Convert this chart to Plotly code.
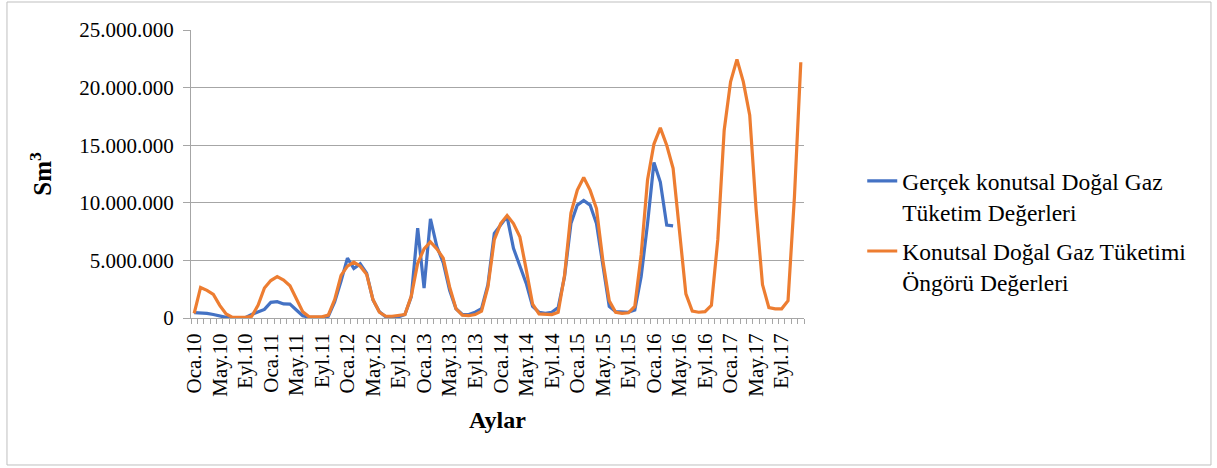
import plotly.graph_objects as go

# Month abbreviations (Turkish) and years
month_abbr = ["Oca", "Şub", "Mar", "Nis", "May", "Haz", "Tem", "Ağu", "Eyl", "Eki", "Kas", "Ara"]
years = ["10", "11", "12", "13", "14", "15", "16", "17"]
months = [f"{m}.{y}" for y in years for m in month_abbr]

# Actual residential natural gas consumption (million Sm3), Oca.10 - Nis.16
actual_mln = [
    0.46, 0.45, 0.40, 0.30, 0.17, 0.05, 0.02, 0.02, 0.02, 0.30, 0.50, 0.75,
    1.36, 1.42, 1.22, 1.20, 0.70, 0.20, 0.05, 0.05, 0.05, 0.15, 1.40, 3.20,
    5.20, 4.30, 4.70, 3.90, 1.56, 0.55, 0.10, 0.10, 0.10, 0.30, 1.85, 7.80,
    2.60, 8.60, 6.20, 4.80, 2.40, 0.80, 0.30, 0.30, 0.50, 0.80, 2.90, 7.35,
    8.10, 8.80, 6.05, 4.45, 3.00, 1.00, 0.50, 0.40, 0.50, 0.90, 3.60, 8.20,
    9.80, 10.20, 9.80, 8.20, 4.75, 1.00, 0.55, 0.50, 0.50, 0.70, 3.60, 8.20,
    13.50, 11.80, 8.07, 8.00,
]

# Forecast residential natural gas consumption (million Sm3), Oca.10 - Ara.17
forecast_mln = [
    0.40, 2.65, 2.40, 2.05, 1.10, 0.35, 0.05, 0.05, 0.05, 0.15, 1.10, 2.60,
    3.25, 3.60, 3.30, 2.80, 1.60, 0.55, 0.10, 0.10, 0.10, 0.25, 1.60, 3.70,
    4.50, 4.85, 4.50, 3.80, 1.60, 0.50, 0.15, 0.15, 0.20, 0.30, 1.90, 4.75,
    6.00, 6.60, 6.00, 5.20, 2.70, 0.80, 0.25, 0.20, 0.30, 0.60, 2.70, 6.80,
    8.20, 8.90, 8.20, 7.05, 4.20, 1.20, 0.35, 0.30, 0.30, 0.50, 3.70, 9.10,
    11.10, 12.20, 11.10, 9.50, 5.00, 1.50, 0.50, 0.40, 0.45, 1.00, 5.50, 12.00,
    15.10, 16.50, 15.00, 13.00, 7.30, 2.10, 0.60, 0.50, 0.55, 1.10, 6.80, 16.30,
    20.50, 22.45, 20.50, 17.60, 9.40, 2.90, 0.90, 0.80, 0.80, 1.50, 10.50, 22.20,
]

series_names = [
    "Gerçek konutsal Doğal Gaz<br>Tüketim Değerleri",
    "Konutsal Doğal Gaz Tüketimi<br>Öngörü Değerleri",
]
series_colors = ["#4472C4", "#ED7D31"]

y_ticks = [0, 5_000_000, 10_000_000, 15_000_000, 20_000_000, 25_000_000]
label_step = 4

FONT = "Liberation Serif"
GRID = "#a6a6a6"

fig = go.Figure()
for k, (name, color, vals) in enumerate(zip(series_names, series_colors, [actual_mln, forecast_mln])):
    fig.add_trace(go.Scatter(
        x=list(range(len(vals))),
        y=[v * 1_000_000 for v in vals],
        mode="lines",
        name=name,
        legendgroup=f"g{k}",
        line=dict(color=color, width=3.2),
    ))

fig.update_layout(
    width=1217, height=468,
    margin=dict(l=191, r=413, t=30, b=150, autoexpand=False),
    paper_bgcolor="white", plot_bgcolor="white",
    separators=",.",
    font=dict(family=FONT, size=21, color="black"),
    showlegend=True,
    legend=dict(
        x=1.095, y=0.30, xanchor="left", yanchor="middle",
        font=dict(family=FONT, size=23.5, color="black"),
        valign="top", tracegroupgap=6,
        bgcolor="rgba(0,0,0,0)",
    ),
    shapes=[dict(
        type="rect", xref="paper", yref="paper",
        x0=-0.3002, x1=1.6639, y0=-0.5104, y1=1.0972,
        line=dict(color="#bfbfbf", width=1), layer="below",
    )],
)

fig.update_xaxes(
    range=[-0.5, len(months) - 0.5],
    tickmode="array",
    tickvals=list(range(0, len(months), label_step)),
    ticktext=months[::label_step],
    tickangle=-90,
    ticks="outside", ticklen=6, tickcolor="rgba(0,0,0,0)",
    tickfont=dict(family=FONT, size=21, color="black"),
    minor=dict(tickmode="linear", tick0=-0.5, dtick=1, ticks="outside",
               ticklen=5, tickcolor=GRID, showgrid=False),
    showline=True, linecolor=GRID, linewidth=1,
    showgrid=False, zeroline=False,
    title=dict(text="<b>Aylar</b>", font=dict(family=FONT, size=24, color="black"), standoff=15),
    automargin=False,
)

fig.update_yaxes(
    range=[0, 25_000_000],
    tickmode="array", tickvals=y_ticks,
    tickformat=",d",
    ticks="outside", ticklen=7, tickcolor=GRID,
    ticklabelstandoff=5,
    tickfont=dict(family=FONT, size=21, color="black"),
    showline=True, linecolor=GRID, linewidth=1,
    showgrid=True, gridcolor=GRID, gridwidth=1,
    zeroline=False,
    title=dict(text="<b>Sm<sup>3</sup></b>", font=dict(family=FONT, size=25, color="black"), standoff=20),
    automargin=False,
)

fig.write_html("out.html", config={"displayModeBar": False},
               post_script="document.body.style.margin='0';")
